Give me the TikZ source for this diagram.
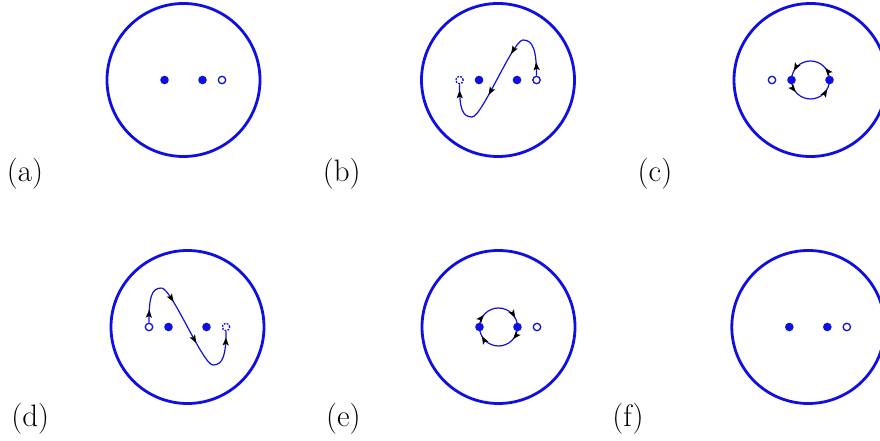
\documentclass[tikz,border=0pt]{standalone}
\usetikzlibrary{arrows.meta,decorations.markings}
\definecolor{mainblue}{RGB}{15,15,225}
\tikzset{
  rim/.style={draw=mainblue, line width=2.8pt},
  fdot/.style={circle, fill=mainblue, inner sep=0pt, minimum size=8.6pt},
  odot/.style={circle, draw=mainblue, line width=1.3pt, fill=white, inner sep=0pt, minimum size=7.4pt},
  ddot/.style={odot, dash pattern=on 1.8pt off 1.3pt},
  pathline/.style={draw=mainblue, line width=1.2pt},
  tipmark/.style={decoration={markings, mark=at position #1 with {\arrow{Stealth[length=8pt,width=6pt,inset=1.6pt,color=black]}}}, postaction={decorate}},
  twomarks/.style 2 args={decoration={markings,
      mark=at position #1 with {\arrow{Stealth[length=8pt,width=6pt,inset=1.6pt,color=black]}},
      mark=at position #2 with {\arrow{Stealth[length=8pt,width=6pt,inset=1.6pt,color=black]}}}, postaction={decorate}},
  lab/.style={anchor=base, inner sep=0pt, font=\fontsize{31}{36}\selectfont}
}
\begin{document}
\begin{tikzpicture}[x=1pt,y=1pt]
\useasboundingbox (0,0) rectangle (880,441);
\clip (0,0) rectangle (880,441);

% (a)
\begin{scope}[shift={(183.5,361)}]
  \draw[rim] (0,0) circle[radius=76.5pt];
  \node[fdot] (a1) at (-19,0) {};
  \node[fdot] (a2) at (19,0) {};
  \node[odot] (a3) at (38.5,0) {};
\end{scope}
\node[lab] (la) at (25,259) {(a)};

% (b)
\begin{scope}[shift={(498,361)}]
  \draw[rim] (0,0) circle[radius=76.5pt];
  \node[ddot] (b0) at (-38.5,0) {};
  \node[fdot] (b1) at (-19,0) {};
  \node[fdot] (b2) at (19,0) {};
  \node[odot] (b3) at (38.5,0) {};
  \coordinate (bT) at (25,40);
  \coordinate (bB) at (-26,-37);
  \draw[pathline, tipmark=0.32] (b3.north) .. controls (38.5,30) and (35,40) .. (bT);
  \draw[pathline, twomarks={0.2}{0.7}] (bT) .. controls (15,40) and (-16,-37) .. (bB);
  \draw[pathline, tipmark=0.85] (bB) .. controls (-36,-37) and (-38.5,-28) .. (b0.south);
\end{scope}
\node[lab] (lb) at (341.7,259) {(b)};

% (c)
\begin{scope}[shift={(810.5,361)}]
  \draw[rim] (0,0) circle[radius=76.5pt];
  \node[odot] (c0) at (-38.5,0) {};
  \coordinate (c1p) at (-19,0);
  \coordinate (c2p) at (19,0);
  \draw[pathline, twomarks={0.22}{0.84}] (c1p) arc[start angle=180, end angle=360, radius=19pt];
  \draw[pathline, twomarks={0.22}{0.84}] (c2p) arc[start angle=0, end angle=180, radius=19pt];
  \node[fdot] (c1) at (c1p) {};
  \node[fdot] (c2) at (c2p) {};
\end{scope}
\node[lab] (lc) at (655,259) {(c)};

% (d)
\begin{scope}[shift={(187.5,114)}]
  \draw[rim] (0,0) circle[radius=76.5pt];
  \node[odot] (d0) at (-38.5,0) {};
  \node[fdot] (d1) at (-19,0) {};
  \node[fdot] (d2) at (19,0) {};
  \node[ddot] (d3) at (38.5,0) {};
  \coordinate (dT) at (-26,39);
  \coordinate (dB) at (25.5,-38);
  \draw[pathline, tipmark=0.32] (d0.north) .. controls (-38.5,30) and (-36,39) .. (dT);
  \draw[pathline, twomarks={0.2}{0.7}] (dT) .. controls (-16,39) and (15.5,-38) .. (dB);
  \draw[pathline, tipmark=0.85] (dB) .. controls (35.5,-38) and (38.5,-28) .. (d3.south);
\end{scope}
\node[lab] (ld) at (30.3,14) {(d)};

% (e)
\begin{scope}[shift={(498.5,114)}]
  \draw[rim] (0,0) circle[radius=76.5pt];
  \coordinate (e1p) at (-19,0);
  \coordinate (e2p) at (19,0);
  \draw[pathline, twomarks={0.22}{0.84}] (e1p) arc[start angle=180, end angle=0, radius=19pt];
  \draw[pathline, twomarks={0.22}{0.84}] (e2p) arc[start angle=0, end angle=-180, radius=19pt];
  \node[fdot] (e1) at (e1p) {};
  \node[fdot] (e2) at (e2p) {};
  \node[odot] (e3) at (38.5,0) {};
\end{scope}
\node[lab] (le) at (343.3,14) {(e)};

% (f)
\begin{scope}[shift={(808.3,114)}]
  \draw[rim] (0,0) circle[radius=76.5pt];
  \node[fdot] (f1) at (-19,0) {};
  \node[fdot] (f2) at (19,0) {};
  \node[odot] (f3) at (38.5,0) {};
\end{scope}
\node[lab] (lf) at (628,14) {(f)};
\end{tikzpicture}
\end{document}
